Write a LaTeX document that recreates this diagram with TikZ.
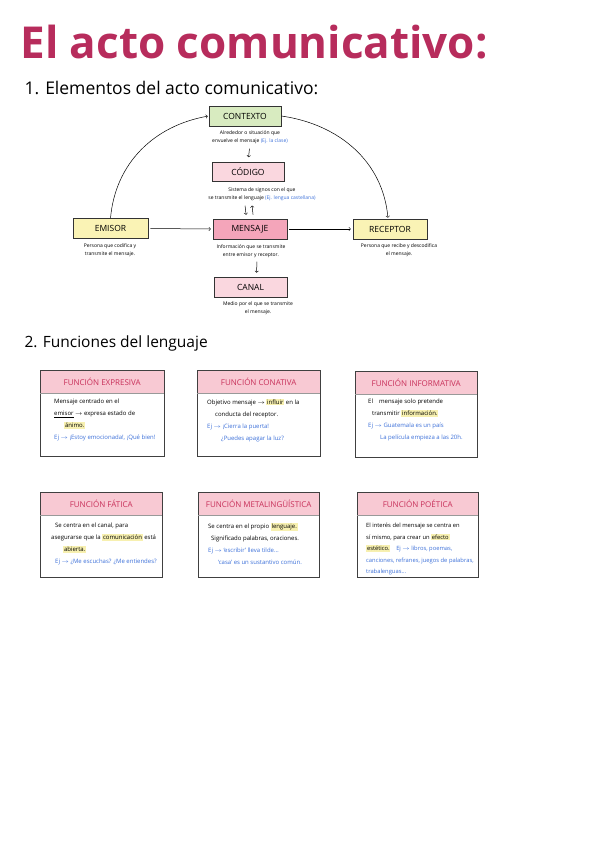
\documentclass[tikz,border=0pt]{standalone}
\usepackage{fontspec}
\setmainfont{Open Sans}
\definecolor{tituloc}{HTML}{B72C5C}
\definecolor{verde}{HTML}{D8EBC0}
\definecolor{rosa}{HTML}{FAD7DF}
\definecolor{rosafuerte}{HTML}{F4A5BA}
\definecolor{amarillo}{HTML}{FAF3B5}
\definecolor{cabecera}{HTML}{F8C9D3}
\definecolor{rojo}{HTML}{C8305A}
\definecolor{azul}{HTML}{3B6FD8}
\definecolor{marcado}{HTML}{F7F0B0}
\newcommand{\marca}[1]{{\setlength{\fboxsep}{0.8pt}\colorbox{marcado}{#1}}}
\newcommand{\ej}[1]{{\color{azul}#1}}
\begin{document}
\begin{tikzpicture}[x=1pt,y=-1pt,
    caja/.style={draw=black!80, line width=0.6pt, inner sep=0pt, font=\fontsize{8.5}{9}\selectfont},
    expl/.style={align=center, inner sep=0pt, font=\fontsize{5}{8}\selectfont},
    cabeza/.style={fill=cabecera, inner sep=0pt, text=rojo, font=\fontsize{8}{8}\selectfont},
    cuerpo/.style={align=left, inner sep=0pt, anchor=north west, font=\fontsize{6}{12}\selectfont},
    marco/.style={draw=black!75, line width=0.7pt},
    flecha/.style={->, line width=0.5pt, shorten >=2pt, shorten <=2pt}]
  \useasboundingbox (0,0) rectangle (601,848);
  % titulos
  \node[anchor=west, text=tituloc, font=\bfseries\fontsize{44}{44}\selectfont] (titulo) at (17,42) {El acto comunicativo:};
  \node[anchor=west, font=\fontsize{17.5}{18}\selectfont] (sec1) at (21,88) {1. Elementos del acto comunicativo:};
  \node[anchor=west, font=\fontsize{15.5}{16}\selectfont] (sec2) at (21,343) {2. Funciones del lenguaje};
  % elementos
  \node[caja, fill=verde, minimum width=72, minimum height=20] (ctx) at (245,116) {CONTEXTO};
  \node[caja, fill=rosa, minimum width=72, minimum height=19] (cod) at (248,172) {CÓDIGO};
  \node[caja, fill=amarillo, minimum width=75, minimum height=20] (emi) at (110.5,228.5) {EMISOR};
  \node[caja, fill=rosafuerte, minimum width=74, minimum height=20] (men) at (250,229) {MENSAJE};
  \node[caja, fill=amarillo, minimum width=74, minimum height=20] (rec) at (390,229) {RECEPTOR};
  \node[caja, fill=rosa, minimum width=73, minimum height=20] (can) at (250.5,287) {CANAL};
  \node[expl] (ctxtxt) at (250,137) {Alrededor o situación que\\envuelve el mensaje \ej{(Ej. la clase)}};
  \node[expl] (codtxt) at (262,194) {Sistema de signos con el que\\se transmite el lenguaje \ej{(Ej. lengua castellana)}};
  \node[expl] (emitxt) at (110,250) {Persona que codifica y\\transmite el mensaje.};
  \node[expl] (mentxt) at (251,251) {Información que se transmite\\entre emisor y receptor.};
  \node[expl] (rectxt) at (399,250) {Persona que recibe y descodifica\\el mensaje.};
  \node[expl] (cantxt) at (258,308) {Medio por el que se transmite\\el mensaje.};
  \draw[flecha, shorten <=5pt, shorten >=5pt] (ctxtxt.south) -- (cod.north);
  \draw[flecha, shorten <=5pt, shorten >=4pt] ([xshift=-3.5pt]codtxt.south -| cod.north) -- ([xshift=-3.5pt]men.north);
  \draw[flecha, shorten <=4pt, shorten >=5pt] ([xshift=3.5pt]men.north) -- ([xshift=3.5pt]codtxt.south -| cod.north);
  \draw[flecha, shorten <=4pt, shorten >=4pt] ([xshift=6pt]mentxt.south) -- ([xshift=6pt]can.north);
  \draw[flecha] (emi.east) -- (men.west);
  \draw[flecha] (men.east) -- (rec.west);
  \draw[flecha, shorten <=0pt, shorten >=1pt] (emi.north) to[out=85, in=190] (ctx.west);
  \draw[flecha, shorten <=0pt, shorten >=1pt] (ctx.east) to[out=-8, in=95] ([xshift=-2pt]rec.north);
  % funciones
  \foreach \i/\x/\y/\w/\h/\nombre in {1/40/370/124/86/EXPRESIVA, 2/197/370/123/86/CONATIVA,
      3/355/371/122/86/INFORMATIVA, 4/40/492/122/85/FÁTICA,
      5/198/492/121/85/METALINGÜÍSTICA, 6/357/492/121/85/POÉTICA}{
    \node[cabeza, anchor=north west, minimum width=\w, minimum height=23] (cab\i) at (\x,\y) {FUNCIÓN \nombre};
    \draw[marco] (cab\i.north west) rectangle ++(\w,\h);
    \draw[marco, line width=0.4pt, draw=black!40] (cab\i.south west) -- (cab\i.south east);
  }
  \node[cuerpo] (txt1) at (54,399) {Mensaje centrado en el\\
    \underline{emisor} $\rightarrow$ expresa estado de\\
    \hspace{10pt}\marca{ánimo.}\\
    \ej{Ej $\rightarrow$ ¡Estoy emocionada!, ¡Qué bien!}};
  \node[cuerpo] (txt2) at (207,399) {Objetivo mensaje $\rightarrow$ \marca{influir} en la\\
    \hspace{8pt}conducta del receptor.\\
    \ej{Ej $\rightarrow$ ¡Cierra la puerta!}\\
    \ej{\hspace{14pt}¿Puedes apagar la luz?}};
  \node[cuerpo] (txt3) at (368,399) {El\quad mensaje solo pretende\\
    \hspace{4pt}transmitir \marca{información.}\\
    \ej{Ej $\rightarrow$ Guatemala es un país}\\
    \ej{\hspace{12pt}La película empieza a las 20h.}};
  \node[cuerpo] (txt4) at (51,523) {\hspace{4pt}Se centra en el canal, para\\
    asegurarse que la \marca{comunicación} está\\
    \hspace{12pt}\marca{abierta.}\\
    \ej{\hspace{4pt}Ej $\rightarrow$ ¿Me escuchas? ¿Me entiendes?}};
  \node[cuerpo] (txt5) at (208,523) {Se centra en el propio \marca{lenguaje.}\\
    \hspace{3pt}Significado palabras, oraciones.\\
    \ej{Ej $\rightarrow$ `escribir' lleva tilde\dots}\\
    \ej{\hspace{10pt}`casa' es un sustantivo común.}};
  \node[cuerpo, font=\fontsize{5.8}{11.5}\selectfont] (txt6) at (366,523) {El interés del mensaje se centra en\\
    sí mismo, para crear un \marca{efecto}\\
    \marca{estético.}\quad\ej{Ej $\rightarrow$ libros, poemas,}\\
    \ej{canciones, refranes, juegos de palabras,}\\
    \ej{trabalenguas\dots}};
\end{tikzpicture}
\end{document}
